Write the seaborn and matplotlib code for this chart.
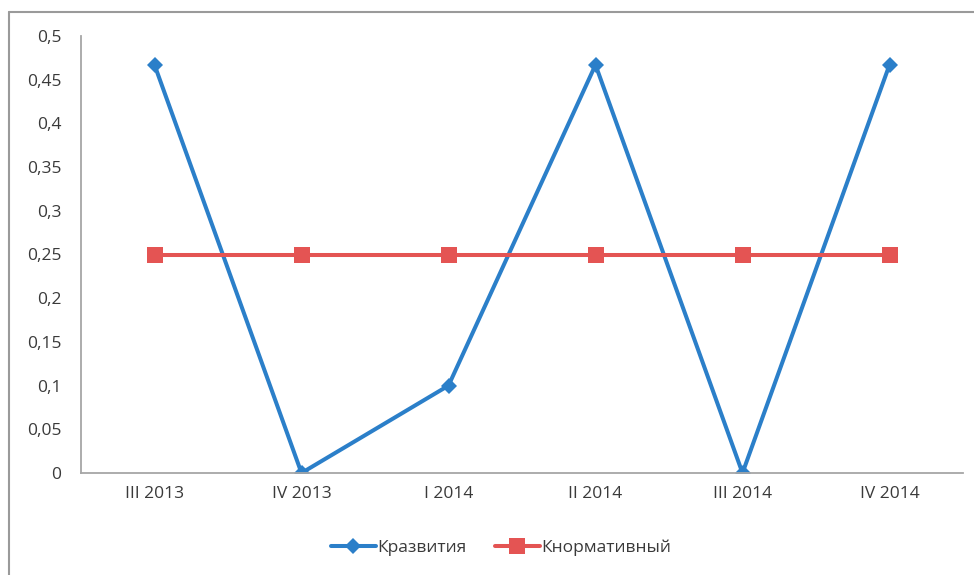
import matplotlib
matplotlib.use("Agg")
import matplotlib.pyplot as plt
import seaborn as sns
import pandas as pd
from matplotlib.lines import Line2D

quarters = ["III 2013", "IV 2013", "I 2014", "II 2014", "III 2014", "IV 2014"]
k_development = [0.467, 0.0, 0.1, 0.467, 0.0, 0.467]
k_normative = [0.25, 0.25, 0.25, 0.25, 0.25, 0.25]
yticks = [0, 0.05, 0.1, 0.15, 0.2, 0.25, 0.3, 0.35, 0.4, 0.45, 0.5]
ytick_labels = ["0", "0,05", "0,1", "0,15", "0,2", "0,25", "0,3", "0,35", "0,4", "0,45", "0,5"]

sns.set_style("white")
plt.rcParams["font.family"] = ["Open Sans", "DejaVu Sans"]

blue = "#2b7fc9"
red = "#e45453"
text_color = "#3a3a3a"
axis_color = "#a6a6a6"

df = pd.DataFrame({
    "quarter": quarters,
    "Кразвития": k_development,
    "Кнормативный": k_normative,
})

fig = plt.figure(figsize=(9.74, 5.75), dpi=100)
ax = fig.add_axes([81 / 974, 1 - 473 / 575, (963 - 81) / 974, (473 - 36) / 575])

sns.lineplot(data=df, x="quarter", y="Кразвития", ax=ax, color=blue, lw=2.9,
             marker="D", markersize=8.5, markeredgewidth=0, sort=False)
sns.lineplot(data=df, x="quarter", y="Кнормативный", ax=ax, color=red, lw=2.9,
             marker="s", markersize=11.5, markeredgewidth=0, sort=False)

ax.set_xlim(-0.5, len(quarters) - 0.5)
ax.set_ylim(0, 0.5)
ax.set_yticks(yticks)
ax.set_yticklabels(ytick_labels)
ax.set_xlabel("")
ax.set_ylabel("")
ax.tick_params(axis="both", length=0, labelsize=12.5, colors=text_color)
ax.tick_params(axis="y", pad=14)
ax.tick_params(axis="x", pad=9)

for side in ["top", "right"]:
    ax.spines[side].set_visible(False)
for side in ["left", "bottom"]:
    ax.spines[side].set_color(axis_color)
    ax.spines[side].set_linewidth(1.3)

# chart area frame (top and left edges)
fig.add_artist(Line2D([9 / 974, 1], [1 - 12 / 575, 1 - 12 / 575],
                      transform=fig.transFigure, color="#9a9a9a", lw=1.5))
fig.add_artist(Line2D([9 / 974, 9 / 974], [0, 1 - 12 / 575],
                      transform=fig.transFigure, color="#9a9a9a", lw=1.5))

handles = [
    Line2D([], [], color=blue, lw=2.9, marker="D", markersize=8.5, markeredgewidth=0),
    Line2D([], [], color=red, lw=2.9, marker="s", markersize=11.5, markeredgewidth=0),
]
leg = fig.legend(handles, ["Кразвития", "Кнормативный"], loc="center",
                 bbox_to_anchor=(501 / 974, 1 - 548 / 575), ncol=2, frameon=False,
                 fontsize=12.5, handlelength=2.6, handletextpad=0.1, columnspacing=1.6)
for t in leg.get_texts():
    t.set_color(text_color)

fig.savefig("out.png", dpi=100)
